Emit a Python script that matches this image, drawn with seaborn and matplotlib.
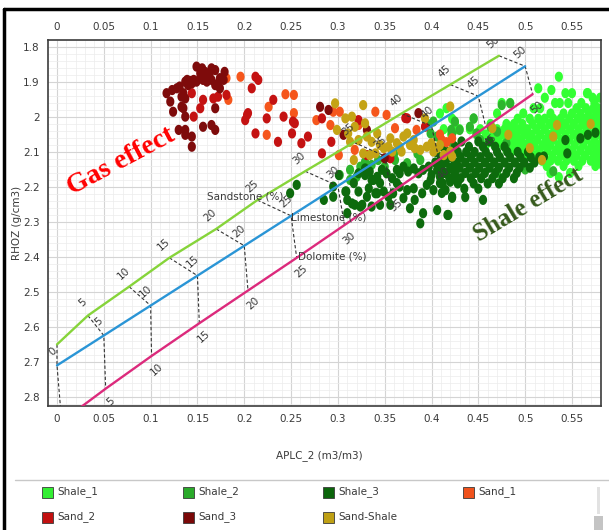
import numpy as np
import pandas as pd
import matplotlib
matplotlib.use("Agg")
import matplotlib.pyplot as plt
import seaborn as sns
from matplotlib.path import Path
from matplotlib.patches import Rectangle
from matplotlib.lines import Line2D
from matplotlib.ticker import MultipleLocator, FuncFormatter, FixedLocator

# ---------------- data ----------------
porosity = [0, 5, 10, 15, 20, 25, 30, 35, 40, 45, 50]
sandstone_x = [0.0, 0.033, 0.077, 0.12, 0.17, 0.214, 0.265, 0.317, 0.368, 0.42, 0.472]
sandstone_y = [2.65, 2.5675, 2.485, 2.4025, 2.32, 2.2375, 2.155, 2.0725, 1.99, 1.9075, 1.825]
limestone_x = [0.0, 0.05, 0.10, 0.15, 0.20, 0.25, 0.30, 0.35, 0.40, 0.45, 0.50]
limestone_y = [2.71, 2.6245, 2.539, 2.4535, 2.368, 2.2825, 2.197, 2.1115, 2.026, 1.9405, 1.855]
dolomite_x = [0.005, 0.052, 0.101, 0.152, 0.204, 0.256, 0.307, 0.357, 0.408, 0.458, 0.508]
dolomite_y = [2.87, 2.7765, 2.683, 2.5895, 2.496, 2.4025, 2.309, 2.2155, 2.122, 2.0285, 1.935]

x_ticks = [0, 0.05, 0.1, 0.15, 0.2, 0.25, 0.3, 0.35, 0.4, 0.45, 0.5, 0.55]
y_ticks = [1.8, 1.9, 2.0, 2.1, 2.2, 2.3, 2.4, 2.5, 2.6, 2.7, 2.8]

facies_names = ["Shale_1", "Shale_2", "Shale_3", "Sand_1", "Sand_2", "Sand_3", "Sand-Shale"]
facies_colors = ["#33ff33", "#2db52d", "#0d6b0d", "#f5561c", "#c41212", "#7e0b0b", "#c4a315"]
legend_fill = ["#33ee33", "#2aaa2a", "#0b650b", "#f0521c", "#c21010", "#7a0808", "#bfa014"]

# Shale_1: rows of (density, [apparent neutron ...])
shale_1_rows = [
    (1.885, [0.536]),
    (1.918, [0.514]),
    (1.923, [0.528]),
    (1.932, [0.543, 0.550, 0.566, 0.567]),
    (1.945, [0.521, 0.572, 0.580]),
    (1.960, [0.475, 0.484, 0.532, 0.537, 0.546, 0.560, 0.574]),
    (1.975, [0.416, 0.509, 0.516, 0.555, 0.565, 0.573, 0.578, 0.585]),
    (1.990, [0.409, 0.470, 0.498, 0.527, 0.541, 0.550, 0.559, 0.568, 0.576, 0.583]),
    (2.005, [0.422, 0.445, 0.492, 0.505, 0.514, 0.521, 0.530, 0.538, 0.547, 0.556, 0.563, 0.571, 0.579]),
    (2.020, [0.425, 0.463, 0.480, 0.488, 0.497, 0.508, 0.517, 0.526, 0.535, 0.543, 0.552, 0.561, 0.569, 0.577, 0.584]),
    (2.035, [0.413, 0.427, 0.430, 0.441, 0.452, 0.470, 0.478, 0.486, 0.494, 0.502, 0.512, 0.521, 0.531, 0.539, 0.548, 0.557, 0.566, 0.575, 0.582]),
    (2.050, [0.421, 0.448, 0.458, 0.466, 0.475, 0.483, 0.491, 0.499, 0.507, 0.516, 0.525, 0.534, 0.543, 0.552, 0.561, 0.570, 0.579]),
    (2.065, [0.452, 0.462, 0.471, 0.480, 0.488, 0.496, 0.505, 0.513, 0.522, 0.530, 0.539, 0.547, 0.556, 0.565, 0.574, 0.583]),
    (2.080, [0.458, 0.467, 0.476, 0.485, 0.493, 0.501, 0.510, 0.519, 0.527, 0.536, 0.544, 0.553, 0.562, 0.571, 0.579]),
    (2.095, [0.480, 0.489, 0.498, 0.506, 0.515, 0.524, 0.533, 0.541, 0.550, 0.559, 0.568, 0.576, 0.584]),
    (2.110, [0.495, 0.503, 0.511, 0.520, 0.529, 0.538, 0.547, 0.555, 0.564, 0.573, 0.581]),
    (2.125, [0.509, 0.518, 0.527, 0.535, 0.544, 0.552, 0.561, 0.570, 0.578]),
    (2.140, [0.523, 0.541, 0.557, 0.575, 0.583]),
    (2.160, [0.527, 0.548]),
    (2.172, [0.536]),
]

shale_2_pts = [
    (0.313, 2.151), (0.324, 2.142), (0.329, 2.128), (0.336, 2.137), (0.343, 2.123), (0.350, 2.142),
    (0.361, 2.123), (0.374, 2.132), (0.388, 2.123), (0.395, 2.018), (0.402, 2.013), (0.399, 2.047),
    (0.406, 2.056), (0.422, 2.047), (0.423, 2.080), (0.302, 2.166), (0.313, 2.180), (0.320, 2.171),
    (0.425, 2.013), (0.430, 2.037), (0.421, 2.037), (0.441, 2.028), (0.445, 2.004), (0.452, 2.066),
    (0.448, 2.047), (0.463, 2.028), (0.470, 2.042), (0.475, 1.966), (0.484, 1.961), (0.480, 2.075),
    (0.470, 2.160), (0.500, 2.150), (0.530, 2.155), (0.360, 2.105), (0.385, 2.105), (0.410, 2.120),
]

shale_3_pts = [
    (0.285, 2.237), (0.295, 2.228), (0.308, 2.213), (0.310, 2.237), (0.318, 2.251), (0.324, 2.256),
    (0.317, 2.189), (0.329, 2.166), (0.336, 2.180), (0.342, 2.171), (0.347, 2.151), (0.352, 2.161),
    (0.358, 2.175), (0.363, 2.151), (0.366, 2.161), (0.370, 2.142), (0.375, 2.156), (0.381, 2.147),
    (0.386, 2.161), (0.391, 2.151), (0.397, 2.142), (0.400, 2.166), (0.406, 2.151), (0.411, 2.137),
    (0.416, 2.161), (0.422, 2.147), (0.427, 2.132), (0.425, 2.171), (0.420, 2.185), (0.415, 2.209),
    (0.409, 2.189), (0.402, 2.209), (0.395, 2.194), (0.390, 2.218), (0.381, 2.204), (0.374, 2.209),
    (0.366, 2.199), (0.359, 2.218), (0.354, 2.228), (0.349, 2.213), (0.345, 2.251), (0.356, 2.251),
    (0.370, 2.232), (0.382, 2.237), (0.377, 2.261), (0.391, 2.275), (0.388, 2.304), (0.406, 2.266),
    (0.418, 2.280), (0.422, 2.228), (0.310, 2.275), (0.295, 2.199), (0.322, 2.213), (0.333, 2.204),
    (0.340, 2.218), (0.363, 2.189), (0.409, 2.171), (0.399, 2.180), (0.345, 2.189), (0.334, 2.156),
    (0.256, 2.194), (0.249, 2.218), (0.301, 2.166), (0.309, 2.213), (0.322, 2.161), (0.315, 2.247),
    (0.326, 2.251), (0.331, 2.228), (0.336, 2.256), (0.342, 2.218), (0.338, 2.180), (0.329, 2.147),
    (0.422, 2.231), (0.436, 2.229), (0.455, 2.237), (0.417, 2.280), (0.411, 2.217),
    (0.543, 2.066), (0.559, 2.061), (0.567, 2.051), (0.545, 2.104), (0.520, 2.113), (0.575, 2.045),
]
shale_3_rows = [
    (2.070, [0.432, 0.450, 0.462]),
    (2.085, [0.412, 0.425, 0.440, 0.455, 0.468, 0.478]),
    (2.100, [0.405, 0.418, 0.428, 0.437, 0.446, 0.458, 0.470, 0.481, 0.492, 0.503]),
    (2.115, [0.410, 0.420, 0.431, 0.442, 0.452, 0.462, 0.473, 0.484, 0.495, 0.506, 0.515]),
    (2.130, [0.404, 0.415, 0.425, 0.436, 0.446, 0.457, 0.467, 0.478, 0.489, 0.499, 0.510]),
    (2.145, [0.409, 0.420, 0.430, 0.441, 0.451, 0.462, 0.472, 0.483, 0.494, 0.505]),
    (2.160, [0.414, 0.425, 0.436, 0.447, 0.457, 0.468, 0.480, 0.491]),
    (2.175, [0.419, 0.431, 0.442, 0.453, 0.465, 0.476, 0.488]),
    (2.190, [0.412, 0.428, 0.445, 0.460, 0.472]),
    (2.205, [0.435, 0.450]),
]

sand_1_pts = [
    (0.196, 1.885), (0.181, 1.889), (0.183, 1.951), (0.226, 1.971), (0.244, 1.935), (0.253, 1.937),
    (0.253, 1.989), (0.224, 2.051), (0.277, 2.009), (0.295, 1.985), (0.302, 1.985), (0.292, 2.023),
    (0.340, 1.985), (0.352, 1.994), (0.301, 2.109), (0.322, 2.023), (0.361, 2.032), (0.384, 2.037),
    (0.411, 2.066), (0.422, 2.061), (0.318, 2.094), (0.416, 2.072), (0.409, 2.050),
]

sand_2_pts = [
    (0.181, 1.937), (0.172, 1.942), (0.167, 1.947), (0.156, 1.951), (0.144, 1.932), (0.146, 1.999),
    (0.153, 1.975), (0.208, 1.918), (0.212, 1.885), (0.215, 1.894), (0.203, 1.994), (0.204, 1.989),
    (0.201, 2.009), (0.212, 2.047), (0.224, 2.004), (0.236, 2.071), (0.242, 1.999), (0.231, 1.951),
    (0.251, 2.047), (0.252, 2.013), (0.254, 2.018), (0.261, 2.075), (0.268, 2.056), (0.283, 2.004),
    (0.293, 2.071), (0.283, 2.104), (0.322, 2.009), (0.331, 2.109), (0.374, 2.004), (0.393, 2.028),
    (0.356, 2.118), (0.372, 2.003),
]

sand_3_pts = [
    (0.149, 1.856), (0.155, 1.861), (0.158, 1.871), (0.153, 1.875), (0.165, 1.861), (0.169, 1.866),
    (0.163, 1.875), (0.162, 1.889), (0.156, 1.894), (0.146, 1.894), (0.142, 1.897), (0.139, 1.894),
    (0.137, 1.899), (0.140, 1.909), (0.144, 1.904), (0.149, 1.899), (0.153, 1.889), (0.160, 1.899),
    (0.165, 1.894), (0.169, 1.909), (0.172, 1.904), (0.174, 1.889), (0.179, 1.871), (0.178, 1.894),
    (0.174, 1.918), (0.135, 1.932), (0.133, 1.942), (0.137, 1.947), (0.131, 1.913), (0.128, 1.918),
    (0.123, 1.923), (0.117, 1.932), (0.121, 1.956), (0.124, 1.985), (0.133, 1.971), (0.135, 1.975),
    (0.137, 1.999), (0.156, 2.028), (0.165, 2.023), (0.169, 2.037), (0.137, 2.037), (0.130, 2.037),
    (0.137, 2.051), (0.144, 2.056), (0.144, 2.085), (0.169, 1.975), (0.281, 1.971), (0.290, 1.980),
    (0.306, 2.051), (0.331, 2.037), (0.350, 2.118), (0.386, 1.989), (0.379, 2.080),
]

sand_shale_pts = [
    (0.297, 1.961), (0.327, 1.966), (0.299, 2.037), (0.308, 2.004), (0.315, 1.999), (0.318, 2.028),
    (0.311, 2.047), (0.313, 2.071), (0.322, 2.066), (0.329, 2.018), (0.331, 2.056), (0.336, 2.071),
    (0.342, 2.047), (0.345, 2.080), (0.349, 2.089), (0.354, 2.085), (0.356, 2.061), (0.363, 2.075),
    (0.366, 2.085), (0.370, 2.056), (0.374, 2.047), (0.377, 2.080), (0.382, 2.089), (0.381, 2.066),
    (0.388, 2.094), (0.395, 2.085), (0.400, 2.075), (0.402, 2.099), (0.406, 2.089), (0.409, 2.080),
    (0.413, 2.109), (0.420, 2.099), (0.393, 2.004), (0.317, 2.123), (0.327, 2.104), (0.334, 2.109),
    (0.340, 2.104), (0.358, 2.099), (0.368, 2.099), (0.422, 2.113), (0.420, 1.970), (0.465, 2.032),
    (0.482, 2.051), (0.534, 2.023), (0.530, 2.056), (0.505, 2.089), (0.518, 2.123), (0.570, 2.020),
]

# ---------------- build table ----------------
def rows_to_pts(rows):
    return [(x, y) for y, xs in rows for x in xs]

groups = {
    "Shale_1": rows_to_pts(shale_1_rows),
    "Shale_2": shale_2_pts,
    "Shale_3": shale_3_pts + rows_to_pts(shale_3_rows),
    "Sand_1": sand_1_pts,
    "Sand_2": sand_2_pts,
    "Sand_3": sand_3_pts,
    "Sand-Shale": sand_shale_pts,
}
records = []
for name in facies_names:
    for x, y in groups[name]:
        records.append({"APLC_2": x, "RHOZ": y, "Facies": name})
df = pd.DataFrame(records)

# ---------------- style ----------------
sns.set_theme(style="white")
plt.rcParams["font.family"] = ["Liberation Sans Narrow", "DejaVu Sans"]
TXT = "#3a3a3a"

W, H = 609, 530
fig = plt.figure(figsize=(W / 100, H / 100), dpi=100)
L, R, T, B = 48, 601, 40, 406
ax = fig.add_axes([L / W, 1 - B / H, (R - L) / W, (B - T) / H])

t = np.linspace(0, 2 * np.pi, 40)
ell = Path(np.column_stack([0.8 * np.cos(t), np.sin(t)]), closed=True)

sns.scatterplot(data=df, x="APLC_2", y="RHOZ", hue="Facies", hue_order=facies_names,
                palette=facies_colors, marker=ell, s=54, linewidth=0, legend=False,
                ax=ax, zorder=2)

ax.set_xlim(-0.0096, 0.581)
ax.set_ylim(2.826, 1.78)

# lithology lines
ax.plot(sandstone_x, sandstone_y, color="#86d43a", lw=1.7, zorder=4)
ax.plot(limestone_x, limestone_y, color="#2a95d6", lw=1.7, zorder=4)
ax.plot(dolomite_x, dolomite_y, color="#dc2a7c", lw=1.7, zorder=4)

# porosity connectors and labels
for i, p in enumerate(porosity):
    ax.plot([sandstone_x[i], limestone_x[i], dolomite_x[i]],
            [sandstone_y[i], limestone_y[i], dolomite_y[i]],
            color="#333333", lw=0.8, ls=(0, (3, 2)), zorder=3)
    kw = dict(fontsize=7.5, color=TXT, rotation=42, ha="center", va="center",
              rotation_mode="anchor", zorder=5, clip_on=True)
    if p > 0:
        ax.text(sandstone_x[i] - 0.006, sandstone_y[i] - 0.038, str(p), **kw)
        ax.text(dolomite_x[i] + 0.005, dolomite_y[i] + 0.038, str(p), **kw)
    ax.text(limestone_x[i] - 0.005, limestone_y[i] - 0.040, str(p), **kw)

ax.text(0.160, 2.226, "Sandstone (%)", fontsize=7.5, color=TXT, ha="left", va="center", zorder=5)
ax.text(0.250, 2.287, "Limestone (%)", fontsize=7.5, color=TXT, ha="left", va="center", zorder=5)
ax.text(0.257, 2.400, "Dolomite (%)", fontsize=7.5, color=TXT, ha="left", va="center", zorder=5)

ax.text(0.068, 2.128, "Gas effect", family=["Liberation Serif", "DejaVu Serif"], weight="bold",
        fontsize=20, color="#ff0000", rotation=28, ha="center", va="center",
        rotation_mode="anchor", zorder=6)
ax.text(0.503, 2.250, "Shale effect", family=["Liberation Serif", "DejaVu Serif"], weight="bold",
        fontsize=18, color="#365a1c", rotation=31, ha="center", va="center",
        rotation_mode="anchor", zorder=6)

# axes, ticks, grid
ax.xaxis.set_major_locator(FixedLocator(x_ticks))
ax.yaxis.set_major_locator(FixedLocator(y_ticks))
ax.xaxis.set_minor_locator(MultipleLocator(0.01))
ax.yaxis.set_minor_locator(MultipleLocator(0.02))
fmt = FuncFormatter(lambda v, p: f"{v:g}")
ax.xaxis.set_major_formatter(fmt)
ax.yaxis.set_major_formatter(fmt)
ax.tick_params(which="both", length=0, labelsize=7.5, labelcolor=TXT,
               top=False, right=False, labeltop=True, labelright=True)
ax.tick_params(axis="y", pad=6)
ax.tick_params(axis="x", pad=6)
ax.grid(which="major", color="#d4d4d4", lw=0.8)
ax.grid(which="minor", color="#ececec", lw=0.5)
ax.set_axisbelow(True)
for sp in ax.spines.values():
    sp.set_visible(True)
    sp.set_color("#3c3c3c")
    sp.set_linewidth(1.2)

ax.set_xlabel("APLC_2 (m3/m3)", fontsize=7.5, color=TXT)
ax.set_ylabel("RHOZ (g/cm3)", fontsize=7.5, color=TXT)
ax.xaxis.set_label_coords(0.49, -0.12)
ax.yaxis.set_label_coords(-0.047, 0.5)

# figure frame and separator
fig.add_artist(Line2D([4 / W, 4 / W], [0, 1 - 9 / H], color="black", lw=2.5))
fig.add_artist(Line2D([4 / W, 1], [1 - 9 / H, 1 - 9 / H], color="black", lw=2.5))
fig.add_artist(Line2D([15 / W, 1], [1 - 480 / H, 1 - 480 / H], color="#c8c8c8", lw=1))

# legend
col_x = [42, 183, 323, 463]
row_y = [492, 517]
for k, name in enumerate(facies_names):
    r, c = divmod(k, 4)
    xp, yp = col_x[c], row_y[r]
    fig.add_artist(Rectangle((xp / W, 1 - (yp + 5.5) / H), 11 / W, 11 / H,
                             facecolor=legend_fill[k], edgecolor="#3a3a3a", lw=0.6))
    fig.text((xp + 15) / W, 1 - yp / H, name, fontsize=7.5, color=TXT, ha="left", va="center")

# scroll bar
fig.add_artist(Rectangle((597 / W, 1 - 514 / H), 3 / W, 27 / H, facecolor="#e2e2e2", edgecolor="none"))
fig.add_artist(Rectangle((594 / W, 0), 9 / W, 14 / H, facecolor="#c4c4c4", edgecolor="none"))

fig.savefig("out.png", dpi=100)
